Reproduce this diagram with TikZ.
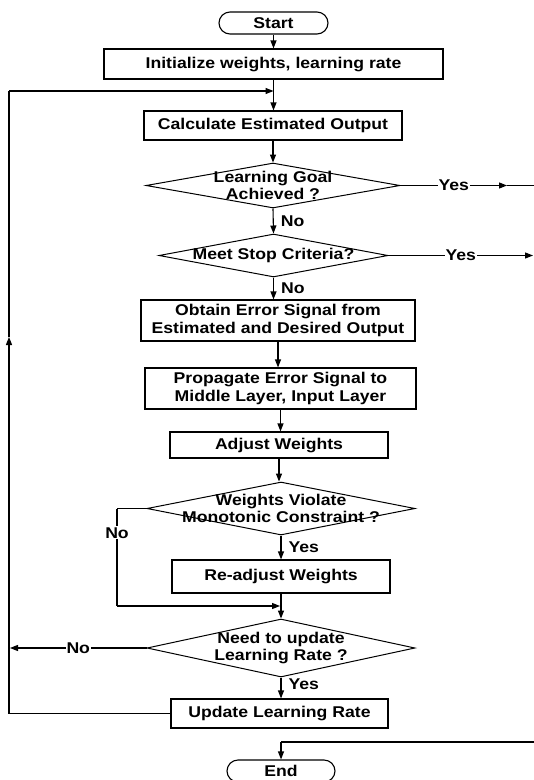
\documentclass[tikz,border=0pt]{standalone}
\usepackage{fontspec}
\setmainfont{Liberation Sans}[FakeStretch=1.13]
\usetikzlibrary{arrows.meta,shapes.geometric}
\begin{document}
\begin{tikzpicture}[x=1pt,y=-1pt,
  font=\fontsize{15.6}{17.5}\selectfont\bfseries,
  box/.style={draw, line width=1.1pt, inner sep=0pt, align=center},
  term/.style={draw, line width=1.1pt, rounded corners=11pt, inner sep=0pt},
  dia/.style={draw, diamond, line width=1pt, inner sep=0pt},
  dtxt/.style={inner sep=0pt, align=center},
  conn/.style={line width=1.1pt},
  arr/.style={conn, -{Triangle[length=8pt,width=6pt]}},
  lbl/.style={fill=white, inner sep=1pt},
  lblr/.style={right=6pt, inner sep=1pt},
]
\useasboundingbox (0,0) rectangle (534,780);

\node[term, minimum width=109pt, minimum height=22pt] (start) at (273.5,23) {Start};
\node[box, minimum width=339pt, minimum height=30pt] (init) at (273.5,64) {Initialize weights, learning rate};
\node[box, minimum width=258pt, minimum height=29pt] (calc) at (273,125.5) {Calculate Estimated Output};
\node[dia, minimum width=254pt, minimum height=45pt] (d1) at (273,185.5) {};
\node[dtxt] (d1t) at (d1) {Learning Goal\\Achieved ?};
\node[dia, minimum width=229pt, minimum height=43pt] (d2) at (273.5,255.5) {};
\node[dtxt] (d2t) at (d2) {Meet Stop Criteria?};
\node[box, minimum width=274pt, minimum height=41pt] (obt) at (278,320.5) {Obtain Error Signal from\\Estimated and Desired Output};
\node[box, minimum width=271pt, minimum height=41pt] (prop) at (280.5,388.5) {Propagate Error Signal to\\Middle Layer, Input Layer};
\node[box, minimum width=218pt, minimum height=26pt] (adj) at (279,445) {Adjust Weights};
\node[dia, minimum width=268pt, minimum height=53pt] (d3) at (281,508.5) {};
\node[dtxt] (d3t) at (d3) {Weights Violate\\Monotonic Constraint ?};
\node[box, minimum width=218pt, minimum height=33pt] (readj) at (281,576.5) {Re-adjust Weights};
\node[dia, minimum width=268pt, minimum height=58pt] (d4) at (281,648) {};
\node[dtxt] (d4t) at (d4) {Need to update\\Learning Rate ?};
\node[box, minimum width=217pt, minimum height=29pt] (upd) at (279.5,713.5) {Update Learning Rate};
\node[term, minimum width=108pt, minimum height=22pt] (end) at (281,771) {End};

\coordinate (join) at (273.5,91);
\coordinate (lb) at (9,713.5);
\coordinate (lm) at (9,337);
\coordinate (lt) at (9,91);
\coordinate (y1) at (507,185.5);
\coordinate (y1e) at (534,185.5);
\coordinate (y2) at (533,255.5);
\coordinate (nb) at (117,508.5);
\coordinate (nc) at (117,606);
\coordinate (merge) at (280,606);
\coordinate (n4) at (10,648);
\coordinate (e1) at (534,742);
\coordinate (e2) at (281,742);

\draw[arr] (start) -- (init);
\draw[arr] (init.south) -- (init.south |- calc.north);
\draw[conn] (upd.west) -- (lb);
\draw[arr] (lb) -- (lm);
\draw[conn] (lm) -- (lt);
\draw[arr] (lt) -- (join);
\draw[arr] (calc) -- (d1);
\draw[arr] (d1.east) -- node[lbl]{Yes} (y1);
\draw[conn] (y1) -- (y1e);
\draw[arr] (d1.south) -- node[lblr]{No} (d2.north);
\draw[arr] (d2.east) -- node[lbl]{Yes} (y2);
\draw[arr] (d2.south) -- node[lblr]{No} (d2.south |- obt.north);
\draw[arr] (obt.south) -- (obt.south |- prop.north);
\draw[arr] (prop.south) -- (prop.south |- adj.north);
\draw[arr] (adj.south) -- (adj.south |- d3.north);
\draw[arr] (d3.south) -- node[lblr]{Yes} (readj.north);
\draw[arr] (readj.south) -- (d4.north);
\draw[conn] (d3.west) -- (nb);
\draw[conn] (nb) -- node[lbl, pos=0.25]{No} (nc);
\draw[arr] (nc) -- (merge);
\draw[arr] (d4.west) -- node[lbl]{No} (n4);
\draw[arr] (d4.south) -- node[lblr, pos=0.3]{Yes} (d4.south |- upd.north);
\draw[conn] (e1) -- (e2);
\draw[arr] (e2) -- (end.north);
\end{tikzpicture}
\end{document}
